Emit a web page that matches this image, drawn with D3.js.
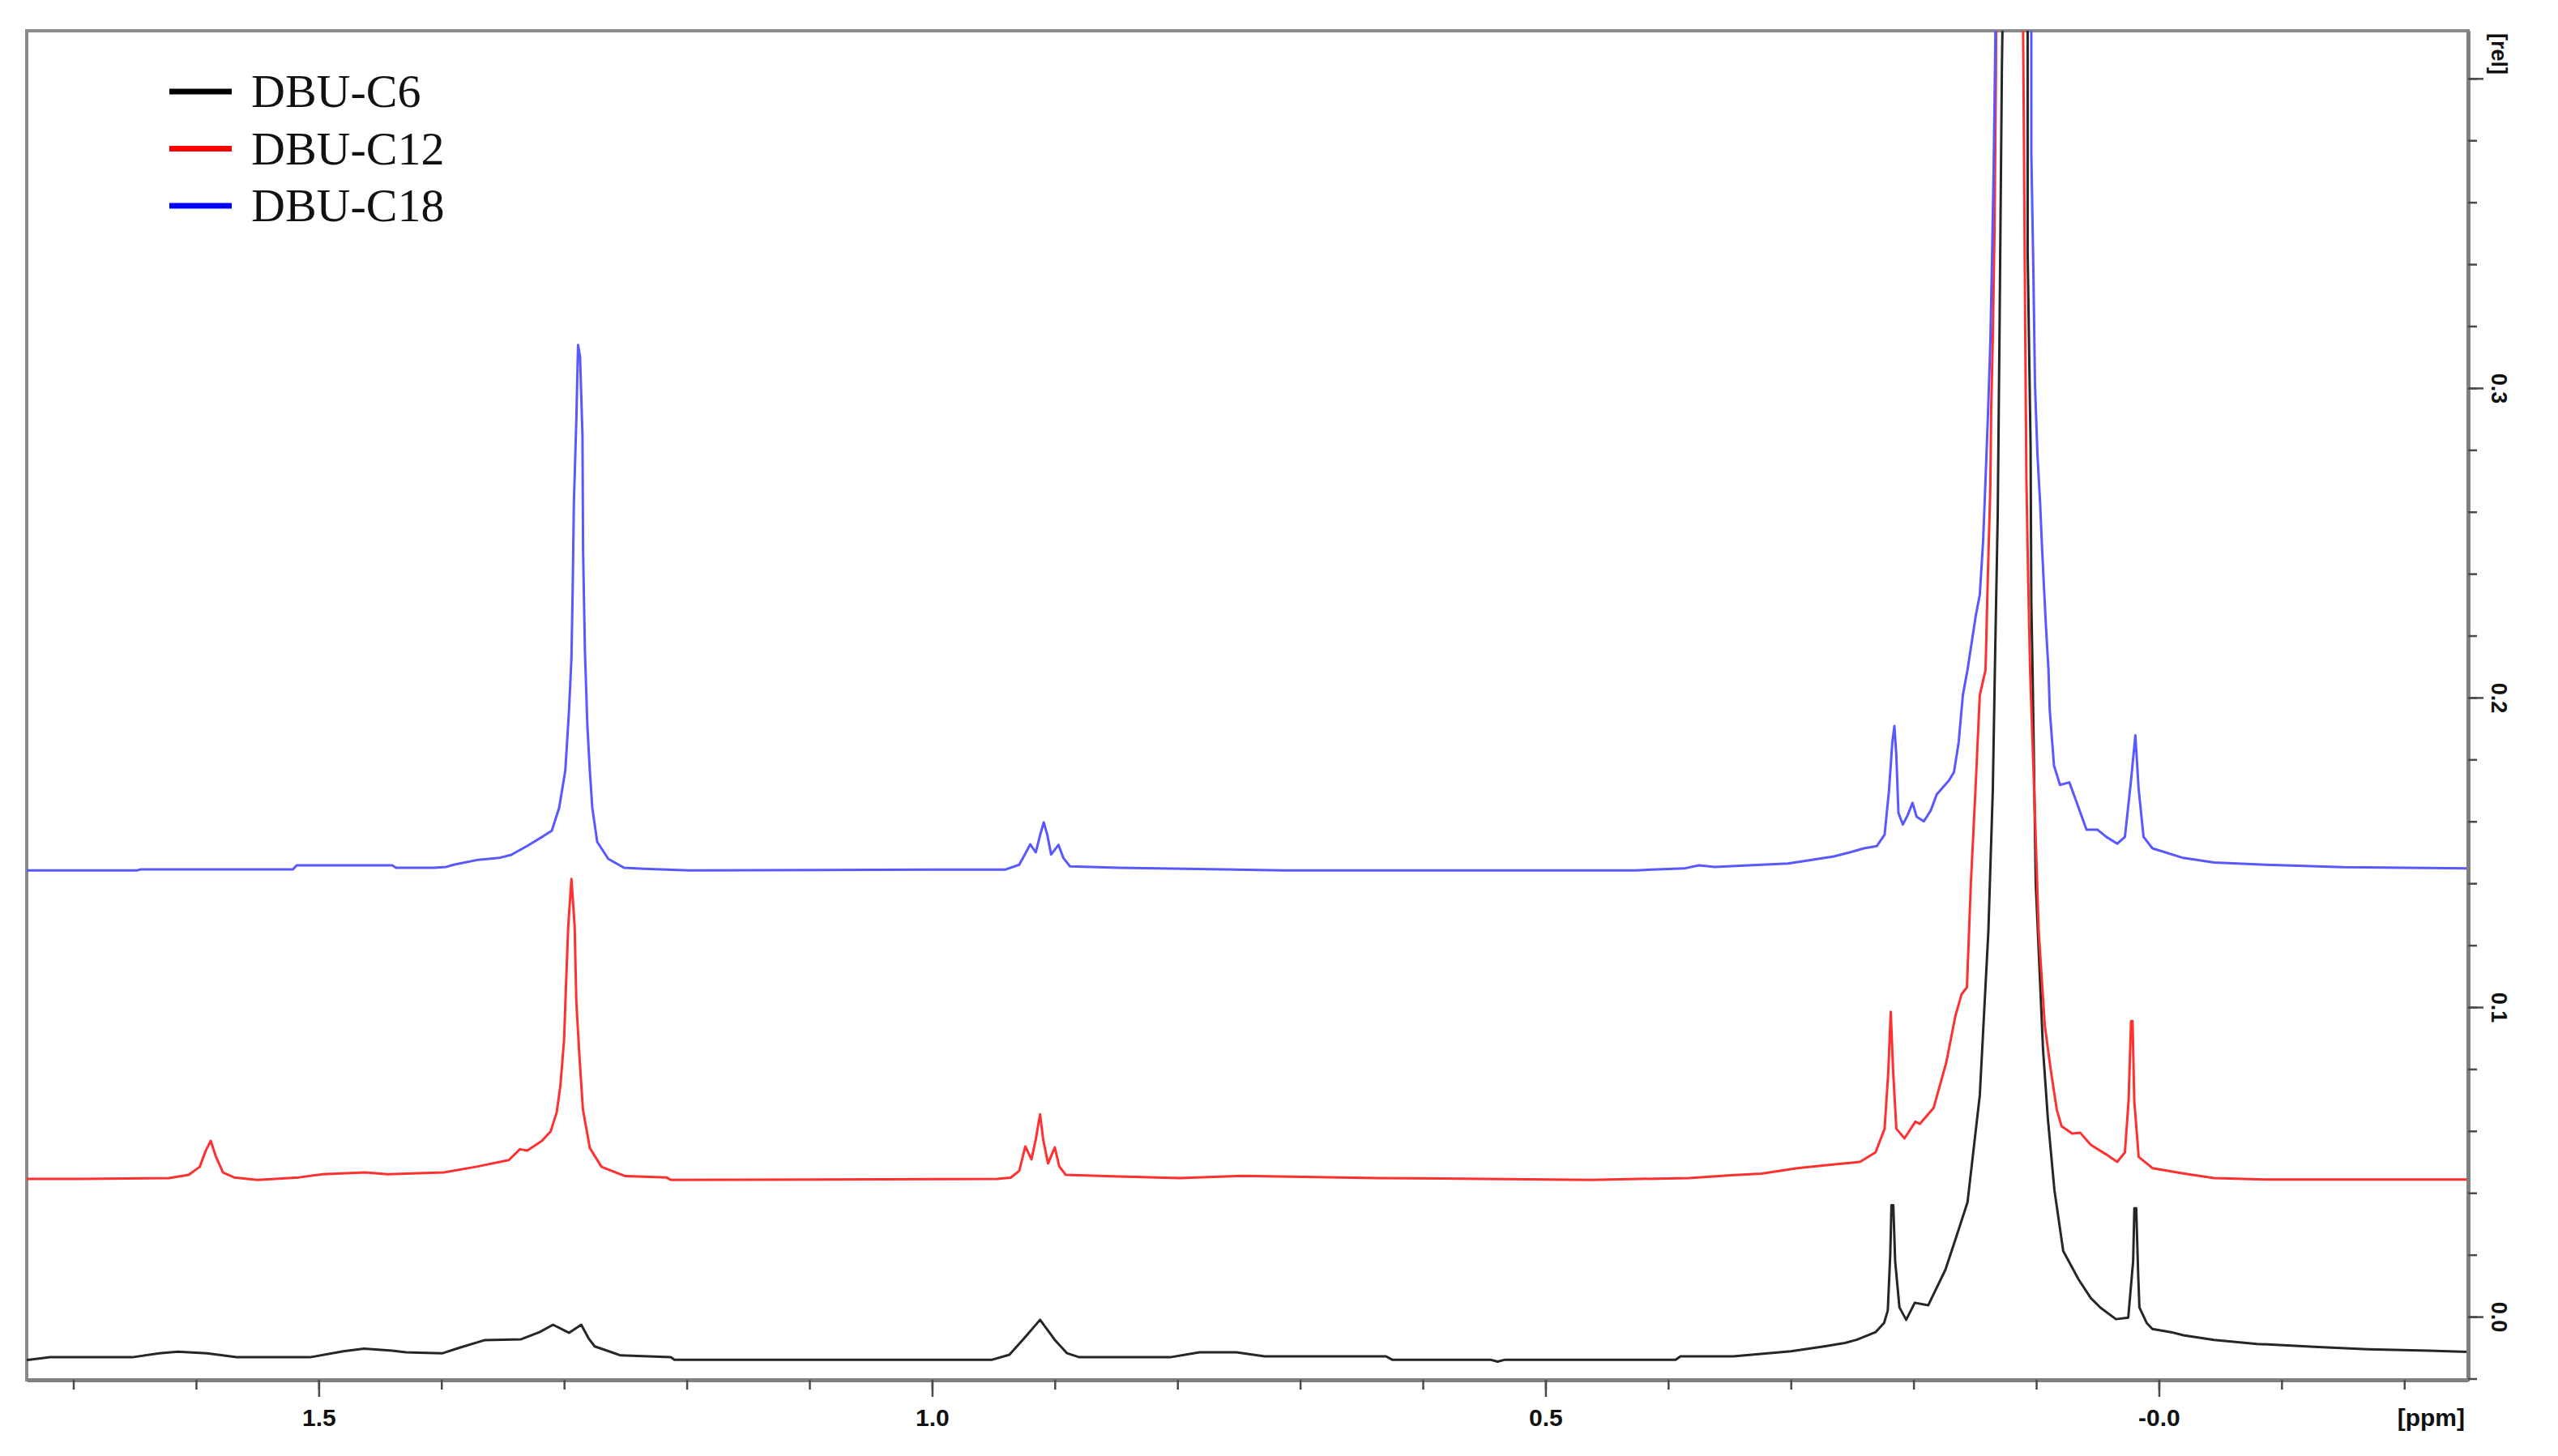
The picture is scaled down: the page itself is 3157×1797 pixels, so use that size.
<!DOCTYPE html>
<html>
<head>
<meta charset="utf-8">
<script src="https://cdn.jsdelivr.net/npm/d3@7"></script>
<style>
  body { margin: 0; background: #fff; }
  svg { display: block; }
</style>
</head>
<body>
<div id="chart"></div>
<script>
// legend / series
const seriesNames = ['DBU-C6', 'DBU-C12', 'DBU-C18'];
const legendColors = ['#000000', '#ff0000', '#0000ff'];
const traceColors = ['#262626', '#ff3030', '#5858ff'];

// axis ticks
const ppmTicks = [1.7, 1.6, 1.5, 1.4, 1.3, 1.2, 1.1, 1.0, 0.9, 0.8, 0.7, 0.6, 0.5, 0.4, 0.3, 0.2, 0.1, 0.0, -0.1, -0.2];
const ppmLabelled = [1.5, 1.0, 0.5, 0.0];
const relTicks = [-0.02, 0.0, 0.02, 0.04, 0.06, 0.08, 0.1, 0.12, 0.14, 0.16, 0.18, 0.2, 0.22, 0.24, 0.26, 0.28, 0.3, 0.32, 0.34, 0.36, 0.38, 0.4];
const relMajor = [0.0, 0.1, 0.2, 0.3, 0.4];
const relLabelled = [0.0, 0.1, 0.2, 0.3];

// traces: [ppm, intensity]
const c6Trace = [
  [1.740, -0.0139], [1.736, -0.0139], [1.719, -0.0131], [1.652, -0.0131], [1.630, -0.0118],
  [1.615, -0.0113], [1.591, -0.0118], [1.567, -0.0131], [1.507, -0.0131], [1.480, -0.0112],
  [1.463, -0.0103], [1.440, -0.0110], [1.429, -0.0115], [1.399, -0.0118], [1.385, -0.0100],
  [1.365, -0.0076], [1.335, -0.0073], [1.320, -0.0050], [1.309, -0.0026], [1.296, -0.0052],
  [1.286, -0.0026], [1.280, -0.0070], [1.275, -0.0096], [1.254, -0.0125], [1.213, -0.0131],
  [1.210, -0.0139], [0.951, -0.0139], [0.937, -0.0123], [0.925, -0.0070], [0.912, -0.0010],
  [0.900, -0.0075], [0.890, -0.0118], [0.880, -0.0131], [0.806, -0.0131], [0.782, -0.0115],
  [0.752, -0.0115], [0.729, -0.0128], [0.630, -0.0128], [0.625, -0.0139], [0.545, -0.0139],
  [0.539, -0.0145], [0.533, -0.0139], [0.394, -0.0139], [0.390, -0.0128], [0.347, -0.0128],
  [0.300, -0.0112], [0.273, -0.0096], [0.256, -0.0085], [0.246, -0.0074], [0.231, -0.0050],
  [0.224, -0.0020], [0.221, 0.0020], [0.219, 0.0200], [0.218, 0.0360], [0.2165, 0.0360],
  [0.215, 0.0180], [0.2115, 0.0030], [0.206, -0.0010], [0.199, 0.0045], [0.188, 0.0037],
  [0.174, 0.0152], [0.165, 0.0260], [0.156, 0.0370], [0.146, 0.0715], [0.139, 0.1246],
  [0.1354, 0.1700], [0.1334, 0.2160], [0.1314, 0.2586], [0.1300, 0.3146], [0.1280, 0.4030],
  [0.1270, 0.4300], [0.1070, 0.4300], [0.1070, 0.3440], [0.1046, 0.2810], [0.1040, 0.2306],
  [0.1030, 0.2090], [0.1004, 0.1400], [0.0970, 0.1094], [0.0945, 0.0866], [0.0905, 0.0639],
  [0.0852, 0.0410], [0.0780, 0.0212], [0.0654, 0.0120], [0.0555, 0.0060], [0.0476, 0.0029],
  [0.0350, -0.0008], [0.0250, -0.0003], [0.0210, 0.0180], [0.0200, 0.0350], [0.0185, 0.0350],
  [0.0170, 0.0150], [0.0159, 0.0030], [0.0100, -0.0020], [0.0053, -0.0040], [-0.0100, -0.0050],
  [-0.0200, -0.0060], [-0.0450, -0.0075], [-0.0800, -0.0088], [-0.1300, -0.0098],
  [-0.1700, -0.0105], [-0.2200, -0.0110], [-0.2520, -0.0114]
];

const c12Trace = [
  [1.740, 0.0445], [1.693, 0.0445], [1.622, 0.0448], [1.606, 0.0458], [1.597, 0.0484],
  [1.592, 0.0537], [1.588, 0.0568], [1.584, 0.0519], [1.578, 0.0466], [1.569, 0.0450],
  [1.550, 0.0442], [1.516, 0.0450], [1.497, 0.0460], [1.462, 0.0466], [1.444, 0.0460],
  [1.398, 0.0466], [1.372, 0.0484], [1.345, 0.0506], [1.336, 0.0541], [1.330, 0.0537],
  [1.318, 0.0568], [1.311, 0.0598], [1.306, 0.0660], [1.303, 0.0746], [1.300, 0.0894],
  [1.2986, 0.1052], [1.2966, 0.1262], [1.294, 0.1414], [1.2914, 0.1262], [1.290, 0.1017],
  [1.2875, 0.0842], [1.2846, 0.0668], [1.279, 0.0545], [1.2695, 0.0484], [1.250, 0.0454],
  [1.2166, 0.0450], [1.213, 0.0442], [0.947, 0.0445], [0.936, 0.0449], [0.929, 0.0471],
  [0.924, 0.0550], [0.919, 0.0508], [0.9155, 0.0573], [0.912, 0.0654], [0.9095, 0.0573],
  [0.9055, 0.0495], [0.900, 0.0547], [0.8963, 0.0485], [0.891, 0.0458], [0.848, 0.0453],
  [0.798, 0.0448], [0.747, 0.0455], [0.637, 0.0448], [0.463, 0.0442], [0.383, 0.0448],
  [0.349, 0.0457], [0.324, 0.0462], [0.2946, 0.0480], [0.269, 0.0490], [0.2437, 0.0500],
  [0.231, 0.0531], [0.2236, 0.0607], [0.2206, 0.0790], [0.2186, 0.0985], [0.2166, 0.0790],
  [0.214, 0.0607], [0.2074, 0.0576], [0.1985, 0.0630], [0.1948, 0.0623], [0.1836, 0.0675],
  [0.1734, 0.0820], [0.1658, 0.0973], [0.1608, 0.1042], [0.1565, 0.1064], [0.1533, 0.1398],
  [0.1495, 0.1704], [0.1460, 0.2008], [0.1413, 0.2090], [0.1394, 0.2398], [0.1374, 0.2680],
  [0.1367, 0.2935], [0.1354, 0.3160], [0.1340, 0.3508], [0.1328, 0.4040], [0.1325, 0.4300],
  [0.1110, 0.4300], [0.1100, 0.3800], [0.1090, 0.3200], [0.1080, 0.2700], [0.1065, 0.2370],
  [0.1050, 0.2090], [0.1017, 0.1704], [0.0980, 0.1246], [0.0930, 0.0940], [0.0879, 0.0790],
  [0.0832, 0.0668], [0.0793, 0.0615], [0.0707, 0.0592], [0.0641, 0.0594], [0.0555, 0.0555],
  [0.0429, 0.0524], [0.0340, 0.0500], [0.0277, 0.0531], [0.0247, 0.0699], [0.0227, 0.0955],
  [0.0215, 0.0955], [0.0201, 0.0699], [0.0165, 0.0516], [0.0053, 0.0480], [-0.0198, 0.0463],
  [-0.0450, 0.0448], [-0.0870, 0.0443], [-0.2520, 0.0443]
];

const c18Trace = [
  [1.740, 0.1442], [1.648, 0.1442], [1.645, 0.1445], [1.521, 0.1445], [1.518, 0.1458],
  [1.440, 0.1458], [1.437, 0.1450], [1.406, 0.1450], [1.396, 0.1453], [1.390, 0.1460],
  [1.370, 0.1476], [1.353, 0.1482], [1.343, 0.1492], [1.330, 0.1521], [1.317, 0.1552],
  [1.310, 0.1570], [1.304, 0.1644], [1.299, 0.1764], [1.296, 0.1956], [1.294, 0.2126],
  [1.293, 0.2343], [1.292, 0.2630], [1.290, 0.2898], [1.2886, 0.3139], [1.287, 0.3102],
  [1.285, 0.2848], [1.2845, 0.2474], [1.283, 0.2150], [1.281, 0.1908], [1.279, 0.1764],
  [1.277, 0.1644], [1.273, 0.1534], [1.264, 0.1479], [1.251, 0.1450], [1.235, 0.1447],
  [1.198, 0.1442], [1.000, 0.1444], [0.9406, 0.1444], [0.929, 0.1460], [0.924, 0.1496],
  [0.920, 0.1526], [0.9155, 0.1500], [0.912, 0.1555], [0.909, 0.1597], [0.906, 0.1555],
  [0.903, 0.1493], [0.897, 0.1524], [0.893, 0.1482], [0.8877, 0.1455], [0.848, 0.1450],
  [0.713, 0.1442], [0.427, 0.1442], [0.387, 0.1448], [0.375, 0.1458], [0.362, 0.1453],
  [0.324, 0.1460], [0.3025, 0.1464], [0.286, 0.1474], [0.265, 0.1487], [0.252, 0.1500],
  [0.2404, 0.1513], [0.230, 0.1520], [0.2236, 0.1557], [0.220, 0.1700], [0.2173, 0.1856],
  [0.2156, 0.1908], [0.214, 0.1810], [0.2123, 0.1627], [0.2087, 0.1590], [0.2048, 0.1620],
  [0.2008, 0.1660], [0.1975, 0.1615], [0.1916, 0.1600], [0.186, 0.1635], [0.181, 0.1688],
  [0.171, 0.1733], [0.167, 0.1760], [0.1632, 0.1856], [0.1598, 0.2008], [0.1560, 0.2090],
  [0.1493, 0.2264], [0.1460, 0.2332], [0.1433, 0.2505], [0.1413, 0.2707], [0.1394, 0.2906],
  [0.1374, 0.3146], [0.1361, 0.3400], [0.1347, 0.3707], [0.1336, 0.4040], [0.1328, 0.4300],
  [0.1040, 0.4300], [0.1040, 0.3760], [0.1023, 0.3370], [0.1010, 0.3010], [0.0990, 0.2785],
  [0.0968, 0.2626], [0.0955, 0.2505], [0.0938, 0.2365], [0.0920, 0.2225], [0.0900, 0.2090],
  [0.0890, 0.1960], [0.0855, 0.1780], [0.0806, 0.1718], [0.0730, 0.1726], [0.0680, 0.1672],
  [0.0590, 0.1573], [0.0500, 0.1573], [0.0429, 0.1550], [0.0340, 0.1528], [0.0277, 0.1550],
  [0.0227, 0.1733], [0.0192, 0.1878], [0.0165, 0.1704], [0.0125, 0.1550], [0.0053, 0.1513],
  [-0.0198, 0.1482], [-0.0450, 0.1467], [-0.0870, 0.1460], [-0.1500, 0.1452], [-0.2520, 0.1448]
];

const traces = [c6Trace, c12Trace, c18Trace];

const width = 3157;
const height = 1797;
const plot = { left: 33, right: 3046, top: 38, bottom: 1703 };

const svg = d3.select('#chart').append('svg')
  .attr('width', width)
  .attr('height', height)
  .style('background', '#fff');

const x = d3.scaleLinear().domain([1.738, -0.252]).range([plot.left, plot.right]);
const y = d3.scaleLinear().domain([-0.0204, 0.4154]).range([plot.bottom, plot.top]);

svg.append('defs').append('clipPath')
  .attr('id', 'plot-clip')
  .append('rect')
  .attr('x', plot.left)
  .attr('y', plot.top)
  .attr('width', plot.right - plot.left)
  .attr('height', plot.bottom - plot.top);

// frame
svg.append('rect')
  .attr('x', plot.left)
  .attr('y', plot.top)
  .attr('width', plot.right - plot.left)
  .attr('height', plot.bottom - plot.top)
  .attr('fill', 'none')
  .attr('stroke', '#8a8a8a')
  .attr('stroke-width', 4);

// spectra
const line = d3.line()
  .x(d => x(d[0]))
  .y(d => y(d[1]));

svg.append('g')
  .attr('clip-path', 'url(#plot-clip)')
  .selectAll('path')
  .data(traces)
  .enter()
  .append('path')
  .attr('d', line)
  .attr('fill', 'none')
  .attr('stroke', (d, i) => traceColors[i])
  .attr('stroke-width', 3)
  .attr('stroke-linejoin', 'round');

// bottom axis (ppm)
const styleAxis = g => {
  g.select('.domain').attr('stroke', '#808080').attr('stroke-width', 5);
  g.selectAll('.tick line').attr('stroke', '#4a4a4a').attr('stroke-width', 2.5);
  g.selectAll('text')
    .attr('fill', '#111')
    .style('font-family', '"Liberation Sans", Arial, sans-serif')
    .style('font-weight', 'bold');
};

svg.append('g')
  .attr('transform', `translate(0,${plot.bottom})`)
  .call(d3.axisBottom(x).tickValues(ppmTicks).tickSize(12).tickSizeOuter(0).tickFormat(''))
  .call(styleAxis);

svg.append('g')
  .attr('transform', `translate(0,${plot.bottom})`)
  .call(d3.axisBottom(x).tickValues(ppmLabelled).tickSize(21).tickSizeOuter(0).tickPadding(15)
    .tickFormat(d => d === 0 ? '-0.0' : d.toFixed(1)))
  .call(styleAxis)
  .call(g => g.select('.domain').remove())
  .selectAll('text')
  .style('font-size', '30px');

svg.append('text')
  .attr('x', plot.right - 4)
  .attr('y', plot.bottom + 57)
  .attr('text-anchor', 'end')
  .style('font-family', '"Liberation Sans", Arial, sans-serif')
  .style('font-weight', 'bold')
  .style('font-size', '30px')
  .attr('fill', '#111')
  .text('[ppm]');

// right axis (rel)
svg.append('g')
  .attr('transform', `translate(${plot.right},0)`)
  .call(d3.axisRight(y).tickValues(relTicks).tickSize(11).tickSizeOuter(0).tickFormat(''))
  .call(styleAxis);

svg.append('g')
  .attr('transform', `translate(${plot.right},0)`)
  .call(d3.axisRight(y).tickValues(relMajor).tickSize(19).tickSizeOuter(0)
    .tickFormat(d => relLabelled.includes(d) ? d.toFixed(1) : ''))
  .call(styleAxis)
  .call(g => g.select('.domain').remove())
  .selectAll('text')
  .attr('x', null)
  .attr('dy', null)
  .attr('text-anchor', 'middle')
  .attr('dominant-baseline', 'central')
  .attr('transform', 'translate(38,0) rotate(90)')
  .style('font-size', '27px');

svg.append('text')
  .attr('transform', `translate(${plot.right + 38},${plot.top + 3}) rotate(90)`)
  .attr('text-anchor', 'start')
  .attr('dominant-baseline', 'central')
  .style('font-family', '"Liberation Sans", Arial, sans-serif')
  .style('font-weight', 'bold')
  .style('font-size', '27px')
  .attr('fill', '#111')
  .text('[rel]');

// legend
const legendY = d3.scalePoint().domain(seriesNames).range([113, 254]);

const legend = svg.append('g')
  .selectAll('g')
  .data(seriesNames)
  .enter()
  .append('g')
  .attr('transform', d => `translate(0,${legendY(d)})`);

legend.append('line')
  .attr('x1', 209)
  .attr('x2', 286)
  .attr('stroke', (d, i) => legendColors[i])
  .attr('stroke-width', 7);

legend.append('text')
  .attr('x', 310)
  .attr('y', 19)
  .style('font-family', '"Liberation Serif", "Times New Roman", serif')
  .style('font-size', '58px')
  .attr('fill', '#111')
  .text(d => d);
</script>
</body>
</html>
